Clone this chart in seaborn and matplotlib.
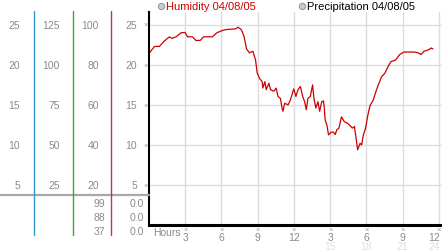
import matplotlib
matplotlib.use("Agg")
import matplotlib.pyplot as plt
import matplotlib.transforms as mtransforms
from matplotlib.lines import Line2D
import seaborn as sns
import pandas as pd

# ---- data ----
hours = [0.04, 0.45, 0.86, 1.28, 1.69, 1.88, 2.24, 2.65, 2.98, 3.19, 3.6, 3.88, 4.24, 4.51,
         5.25, 5.61, 5.99, 6.35, 7.18, 7.37, 7.64, 7.86, 8.07, 8.31, 8.6, 8.82, 8.95, 9.15,
         9.37, 9.42, 9.59, 9.7, 9.92, 10.06, 10.33, 10.52, 10.68, 10.88, 11.01, 11.09, 11.23,
         11.51, 11.7, 11.98, 12.16, 12.33, 12.53, 12.72, 12.88, 13.02, 13.15, 13.35, 13.54,
         13.65, 13.81, 13.98, 14.12, 14.3, 14.44, 14.51, 14.58, 14.72, 14.86, 15.08, 15.27,
         15.41, 15.55, 15.72, 15.93, 16.17, 16.44, 16.64, 16.83, 17.0, 17.1, 17.27, 17.47,
         17.6, 17.74, 17.93, 18.09, 18.29, 18.56, 18.83, 19.24, 19.52, 19.79, 20.02, 20.4,
         20.76, 21.11, 21.99, 22.26, 22.53, 22.76, 23.09, 23.36, 23.5]
humidity = [21.5, 22.3, 22.3, 23.0, 23.5, 23.3, 23.5, 24.0, 24.05, 23.5, 23.5, 23.05, 23.05, 23.5,
            23.5, 24.0, 24.25, 24.4, 24.5, 24.7, 24.4, 23.6, 22.0, 21.5, 21.7, 20.6, 19.0, 18.3,
            17.9, 17.1, 17.9, 16.9, 17.7, 16.9, 16.7, 17.1, 16.05, 15.8, 14.6, 14.2, 15.2,
            15.0, 15.6, 17.0, 16.05, 16.9, 17.3, 16.05, 15.4, 14.4, 15.8, 16.05, 17.5,
            15.8, 14.6, 15.4, 14.2, 15.4, 15.5, 14.6, 13.1, 12.5, 11.25, 11.6, 11.6,
            11.3, 11.9, 12.1, 13.5, 12.9, 12.7, 12.4, 12.1, 12.3, 11.25, 9.4, 10.2,
            10.0, 11.25, 12.1, 13.55, 14.9, 15.6, 16.9, 18.5, 18.95, 19.8, 20.4, 20.6,
            21.3, 21.6, 21.6, 21.5, 21.3, 21.7, 21.85, 22.1, 22.0]

y_ticks = [25, 20, 15, 10, 5]
col1_labels = ["25", "20", "15", "10", "5"]
col2_labels = ["125", "100", "75", "50", "25"]
col3_labels = ["100", "80", "60", "40", "20"]
col4_labels = ["25", "20", "15", "10", "5"]
col3_lower = ["99", "88", "37"]
col4_lower = ["0.0", "0.0", "0.0"]
x_ticks = [3, 6, 9, 12, 15, 18, 21, 24]
x_labels = ["3", "6", "9", "12", "3", "6", "9", "12"]
x_labels2 = ["", "", "", "", "15", "18", "21", "24"]
legend_items = ["Humidity 04/08/05", "Precipitation 04/08/05"]

W, H = 442, 253
sns.set_style("white")
plt.rcParams["font.family"] = ["Liberation Sans", "DejaVu Sans"]

fig = plt.figure(figsize=(W / 100, H / 100), dpi=100)
px = mtransforms.Affine2D().scale(1 / W, -1 / H).translate(0, 1) + fig.transFigure

ax = fig.add_axes([149 / W, (H - 226) / H, (W - 149) / W, 213 / H])
df = pd.DataFrame({"hour": hours, "humidity": humidity})
sns.lineplot(data=df, x="hour", y="humidity", ax=ax, color="#cc0000", lw=0.9)
ax.set_xlim(0, 24.25)
ax.set_ylim(0, 26.6)
ax.set_xlabel("")
ax.set_ylabel("")
ax.set_yticks(y_ticks)
ax.set_yticklabels([])
ax.set_xticks(x_ticks)
ax.set_xticklabels([])
ax.tick_params(length=0)
ax.grid(True, color="#dddddd", lw=1.0)
for s in ["top", "right"]:
    ax.spines[s].set_visible(False)
ax.spines["left"].set_color("black")
ax.spines["left"].set_linewidth(1.5)
ax.spines["bottom"].set_color("black")
ax.spines["bottom"].set_linewidth(2.2)

gray = "#8a8a8a"
mark = "#9a9a9a"
fs = 7.5

bt = mtransforms.blended_transform_factory(px, ax.transData)
for v, a, b, c, d in zip(y_ticks, col1_labels, col2_labels, col3_labels, col4_labels):
    for xr, lab in [(20, a), (60, b), (99, c), (137, d)]:
        fig.text(xr, v, lab, transform=bt, ha="right", va="center", fontsize=fs, color=gray)
    fig.text(145.5, v, "\u00d7", transform=bt, ha="center", va="center", fontsize=5.5, color=mark)

for i, (a, b) in enumerate(zip(col3_lower, col4_lower)):
    y = 204 + 14 * i
    fig.text(105, y, a, transform=px, ha="right", va="center", fontsize=fs, color=gray)
    fig.text(144, y, b, transform=px, ha="right", va="center", fontsize=fs, color=gray)

# x labels
xt = mtransforms.blended_transform_factory(ax.transData, px)
for v, a, b in zip(x_ticks, x_labels, x_labels2):
    ha = "right" if v == 24 else "center"
    off = 0.12 if v == 24 else 0.0
    fig.text(v, 230, "\u00d7", transform=xt, ha="center", va="center", fontsize=5.5, color=mark)
    fig.text(v + off, 238.5, a, transform=xt, ha=ha, va="center", fontsize=fs, color=gray)
    if b:
        fig.text(v + off, 247.5, b, transform=xt, ha=ha, va="center", fontsize=fs, color="#dddddd")
fig.text(153, 233, "Hours", transform=px, ha="left", va="center", fontsize=fs, color=gray)

# left panel lines
fig.add_artist(Line2D([0, 149], [196.5, 196.5], transform=px, color="#a8a8a8", lw=1.6))
for xv, col in [(33.5, "#3399cc"), (72.5, "#33aa33"), (111, "#cc3344")]:
    fig.add_artist(Line2D([xv, xv], [12, 236], transform=px, color=col, lw=1.0))

# legend
for xc, lab, col in [(161, legend_items[0], "#cc0000"), (302, legend_items[1], "black")]:
    fig.add_artist(Line2D([xc], [7], transform=px, marker="o", ms=4.5, color="#999999",
                          markerfacecolor="#cccccc", markeredgewidth=0.8, lw=0))
    fig.text(xc + 5, 7.5, lab, transform=px, ha="left", va="center", fontsize=8, color=col)

fig.savefig("out.png", dpi=100)
